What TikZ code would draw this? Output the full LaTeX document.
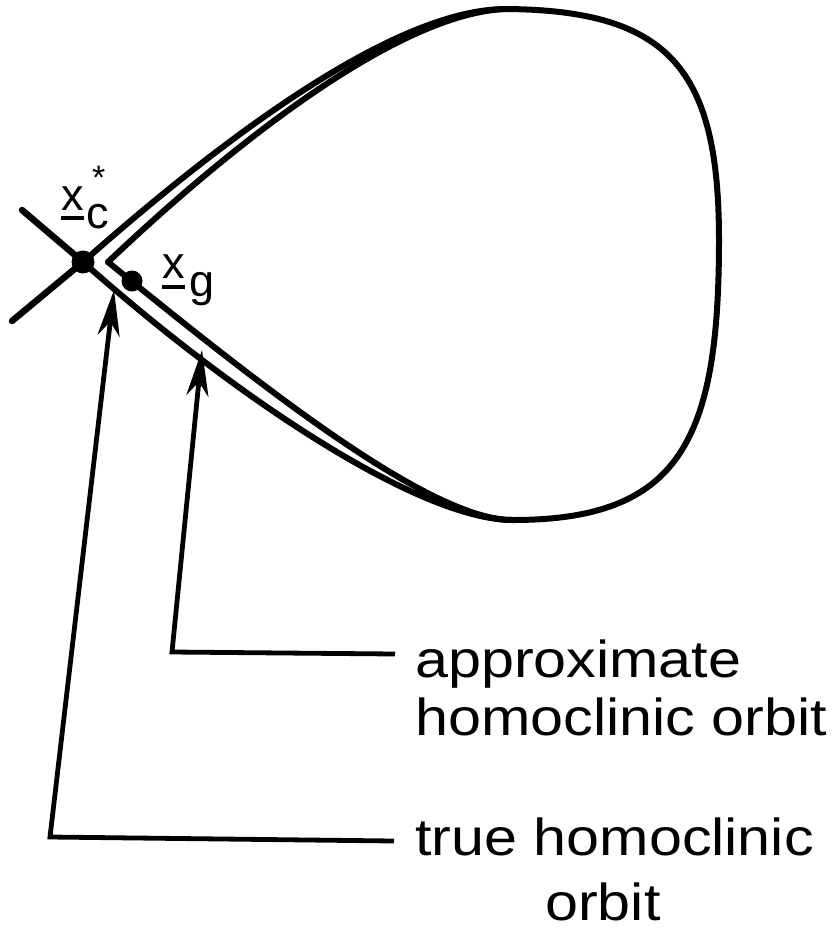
\documentclass[tikz,border=0pt]{standalone}
\usepackage{fontspec}
\setmainfont{Liberation Sans}
\usetikzlibrary{arrows.meta}
\tikzset{
  orbit/.style={line width=6pt, line cap=round, line join=round},
  leader/.style={line width=4.8pt, line join=miter},
  tip/.style={-{Stealth[length=46pt,width=22pt,inset=14pt]}},
  lbl/.style={anchor=base west, inner sep=0pt, font=\fontsize{52}{60}\selectfont},
  sym/.style={anchor=base west, inner sep=0pt, text height=0.55em, text depth=0pt, font=\fontsize{45}{50}\selectfont},
  dot/.style={circle, fill=black, inner sep=0pt, minimum size=23pt}
}
\begin{document}
\begin{tikzpicture}[x=1pt,y=-1pt]
\useasboundingbox (0,0) rectangle (833,932);
% key points
\coordinate (xcpt) at (83,262);
\coordinate (corner) at (108,262);
\coordinate (top) at (505,9);
\coordinate (right) at (719,240);
\coordinate (bottom) at (513,520);
% true homoclinic orbit (outer)
\draw[orbit] (xcpt) .. controls (213,147) and (390,10) .. (top)
  .. controls (670,10) and (719,70) .. (right)
  .. controls (719,440) and (680,520) .. (bottom)
  .. controls (420,520) and (236,398) .. (xcpt);
% approximate homoclinic orbit (inner)
\draw[orbit] (corner) .. controls (226,150) and (395,14) .. (top);
\draw[orbit] (bottom) .. controls (432,521) and (264,389) .. (corner);
% cross lines at the saddle
\coordinate (c1) at (22,210);
\coordinate (c2) at (12,321);
\draw[orbit, line width=6.5pt] (c1) -- (xcpt);
\draw[orbit, line width=6.5pt] (c2) -- (xcpt);
% points
\node[dot] (xc) at (xcpt) {};
\node[dot, minimum size=21pt] (xg) at (132,281) {};
% labels x_c^* and x_g
\node[sym] (xcx) at (61,210) {x};
\node[sym] (xcc) at (86,228) {c};
\node[anchor=base west, inner sep=0pt, text height=0.45em, text depth=0pt, font=\fontsize{34}{38}\selectfont] (xcs) at (92,189) {*};
\draw[line width=4.2pt] ([yshift=-8pt]xcx.base west) -- ([yshift=-8pt]xcx.base east);
\node[sym] (xgx) at (162,278) {x};
\node[sym] (xgg) at (189,296) {g};
\draw[line width=4.2pt] ([yshift=-9pt]xgx.base west) -- ([yshift=-9pt]xgx.base east);
% text labels
\node[lbl] (ap1) at (415,677) {\scalebox{1.14}[1]{approximate}};
\node[lbl] (ap2) at (415,735) {\scalebox{1.14}[1]{homoclinic orbit}};
\node[lbl] (tr1) at (415,855) {\scalebox{1.14}[1]{true homoclinic}};
\node[lbl] (tr2) at (545,920) {\scalebox{1.14}[1]{orbit}};
% leaders
\coordinate (apend) at (395,654);
\coordinate (apcorner) at (172,652);
\coordinate (aptip) at (202,350);
\coordinate (trend) at (394,841);
\coordinate (trcorner) at (50,837);
\coordinate (trtip) at (114,290);
\draw[leader, tip] (apend) -- (apcorner) -- (aptip);
\draw[leader, tip] (trend) -- (trcorner) -- (trtip);
\end{tikzpicture}
\end{document}
